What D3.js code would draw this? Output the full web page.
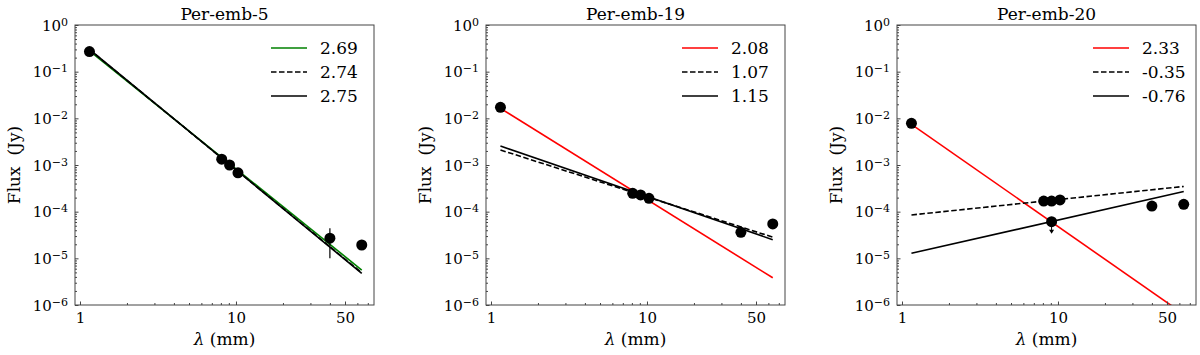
<!DOCTYPE html>
<html>
<head>
<meta charset="utf-8">
<script src="https://cdn.jsdelivr.net/npm/d3@7"></script>
<style>
  body { margin: 0; background: #fff; }
  svg { font-family: "DejaVu Serif", serif; }
</style>
</head>
<body>
<svg id="chart" width="1200" height="355"></svg>
<script>
// DATA
var titles = ["Per-emb-5", "Per-emb-19", "Per-emb-20"];
var wavelengths = [1.15, 8.1, 9.1, 10.3, 40, 64];
var flux5 = [0.27, 1.33e-3, 1.0e-3, 6.8e-4, 2.7e-5, 1.93e-5];
var flux19 = [1.72e-2, 2.47e-4, 2.28e-4, 1.93e-4, 3.6e-5, 5.45e-5];
var flux20 = [7.8e-3, 1.69e-4, 1.69e-4, 1.78e-4, 1.32e-4, 1.44e-4];
var errBar5 = [{ x: 40, lo: 1.0e-5, hi: 4.4e-5 }];
var upperLim20 = [{ x: 9.1, y: 6.1e-5 }];
// fit lines: spectral index (legend label) and log10 of flux at 1 mm
var fitAlpha5 = [2.69, 2.74, 2.75], fitLogA5 = [-0.392, -0.362, -0.354];
var fitAlpha19 = [2.08, 1.07, 1.15], fitLogA19 = [-1.66, -2.613, -2.523];
var fitAlpha20 = [2.33, -0.35, -0.76], fitLogA20 = [-1.988, -4.092, -4.939];
var fitColors5 = ["#008000", "#000", "#000"];
var fitColors = ["#ff0000", "#000", "#000"];
var fitDash = [null, "5.5,2.5", null];
var fitRange = [1.15, 64];
var xTicks = [1, 10, 50];
var yTicks = [1, 1e-1, 1e-2, 1e-3, 1e-4, 1e-5, 1e-6];

var panels = [
    { title: titles[0], flux: flux5, alpha: fitAlpha5, logA: fitLogA5, colors: fitColors5, err: errBar5, ul: [] },
    { title: titles[1], flux: flux19, alpha: fitAlpha19, logA: fitLogA19, colors: fitColors, err: [], ul: [] },
    { title: titles[2], flux: flux20, alpha: fitAlpha20, logA: fitLogA20, colors: fitColors, err: [], ul: upperLim20 }
];

var svg = d3.select("#chart"),
    width = 299,
    height = 280,
    marginTop = 25,
    lefts = [75, 486, 897];

var xScale = d3.scaleLog().domain([0.929, 76.7]).range([0, width]);
var yScale = d3.scaleLog().domain([1e-6, 1]).range([height, 0]);

var minorX = [], minorY = [];
[1, 10].forEach(function (d) {
    for (var k = 2; k <= 9; k++) if (d * k < 76 && d * k !== 50) minorX.push(d * k);
});
for (var e = -6; e < 0; e++) {
    for (var k = 2; k <= 9; k++) minorY.push(k * Math.pow(10, e));
}

panels.forEach(function (p, i) {
    var g = svg.append("g").attr("transform", "translate(" + lefts[i] + "," + marginTop + ")");

    g.append("defs").append("clipPath").attr("id", "clip" + i)
        .append("rect").attr("width", width).attr("height", height);

    var plot = g.append("g").attr("clip-path", "url(#clip" + i + ")");

    // fit lines
    p.alpha.forEach(function (a, j) {
        var line = d3.line()
            .x(function (d) { return xScale(d); })
            .y(function (d) { return yScale(Math.pow(10, p.logA[j]) * Math.pow(d, -a)); });
        plot.append("path")
            .attr("d", line(fitRange))
            .attr("fill", "none")
            .attr("stroke", p.colors[j])
            .attr("stroke-width", 1.6)
            .attr("stroke-dasharray", fitDash[j]);
    });

    // error bars
    plot.selectAll(".err").data(p.err).enter().append("line")
        .attr("x1", function (d) { return xScale(d.x); })
        .attr("x2", function (d) { return xScale(d.x); })
        .attr("y1", function (d) { return yScale(d.lo); })
        .attr("y2", function (d) { return yScale(d.hi); })
        .attr("stroke", "#000").attr("stroke-width", 1.2);

    // data points
    plot.selectAll(".pt").data(wavelengths).enter().append("circle")
        .attr("cx", function (d) { return xScale(d); })
        .attr("cy", function (d, k) { return yScale(p.flux[k]); })
        .attr("r", 5.5)
        .attr("fill", "#000");

    // upper limits
    p.ul.forEach(function (d) {
        var cx = xScale(d.x), cy = yScale(d.y);
        plot.append("line")
            .attr("x1", cx).attr("x2", cx).attr("y1", cy).attr("y2", cy + 10)
            .attr("stroke", "#000").attr("stroke-width", 1);
        plot.append("path")
            .attr("d", "M" + (cx - 2.5) + "," + (cy + 8) + "L" + (cx + 2.5) + "," + (cy + 8) + "L" + cx + "," + (cy + 12) + "Z")
            .attr("fill", "#000");
        plot.append("circle").attr("cx", cx).attr("cy", cy).attr("r", 5.5).attr("fill", "#000");
    });

    // axes
    var xAxis = g.append("g").attr("transform", "translate(0," + height + ")")
        .call(d3.axisBottom(xScale).tickValues(xTicks).tickSizeInner(-3.5).tickSizeOuter(0)
            .tickPadding(7).tickFormat(d3.format("d")));
    g.append("g").attr("transform", "translate(0," + height + ")")
        .call(d3.axisBottom(xScale).tickValues(minorX).tickSize(-2).tickFormat(""));

    var yAxis = g.append("g")
        .call(d3.axisLeft(yScale).tickValues(yTicks).tickSizeInner(-3.5).tickSizeOuter(0)
            .tickPadding(7).tickFormat(""));
    g.append("g").call(d3.axisLeft(yScale).tickValues(minorY).tickSize(-2).tickFormat(""));

    yAxis.selectAll(".tick").each(function (d) {
        var ex = Math.round(Math.log10(d));
        var t = d3.select(this).append("text")
            .attr("x", -7).attr("dy", "0.35em")
            .attr("text-anchor", "end")
            .attr("fill", "#000")
            .attr("font-size", 15)
            .attr("font-family", "DejaVu Serif");
        t.append("tspan").text("10");
        t.append("tspan").attr("dy", "-0.45em").attr("font-size", 11)
            .text(ex === 0 ? "0" : "\u2212" + (-ex));
    });

    g.selectAll(".domain").remove();
    g.selectAll(".tick line").attr("stroke", "#444");
    xAxis.selectAll(".tick text").attr("font-size", 15).attr("font-family", "DejaVu Serif").attr("fill", "#000");

    g.append("rect").attr("width", width).attr("height", height)
        .attr("fill", "none").attr("stroke", "#444").attr("stroke-width", 1);

    // title and labels
    g.append("text").attr("x", width / 2).attr("y", -5)
        .attr("text-anchor", "middle").attr("font-size", 17).text(p.title);

    var xl = g.append("text").attr("x", width / 2).attr("y", height + 40)
        .attr("text-anchor", "middle").attr("font-size", 17);
    xl.append("tspan").attr("font-style", "italic").text("\u03bb");
    xl.append("tspan").text(" (mm)");

    g.append("text")
        .attr("transform", "translate(-55," + (height / 2) + ") rotate(-90)")
        .attr("text-anchor", "middle").attr("font-size", 17)
        .style("white-space", "pre")
        .text("Flux  (Jy)");

    // legend
    var lg = g.append("g").attr("transform", "translate(" + (width - 103) + ",23)");
    p.alpha.forEach(function (a, j) {
        var row = lg.append("g").attr("transform", "translate(0," + (j * 24) + ")");
        row.append("line").attr("x1", 0).attr("x2", 36).attr("y1", 0).attr("y2", 0)
            .attr("stroke", p.colors[j]).attr("stroke-width", 1.6)
            .attr("stroke-dasharray", fitDash[j]);
        row.append("text").attr("x", 49).attr("dy", "0.35em")
            .attr("font-size", 17).text(a.toFixed(2));
    });
});
</script>
</body>
</html>
